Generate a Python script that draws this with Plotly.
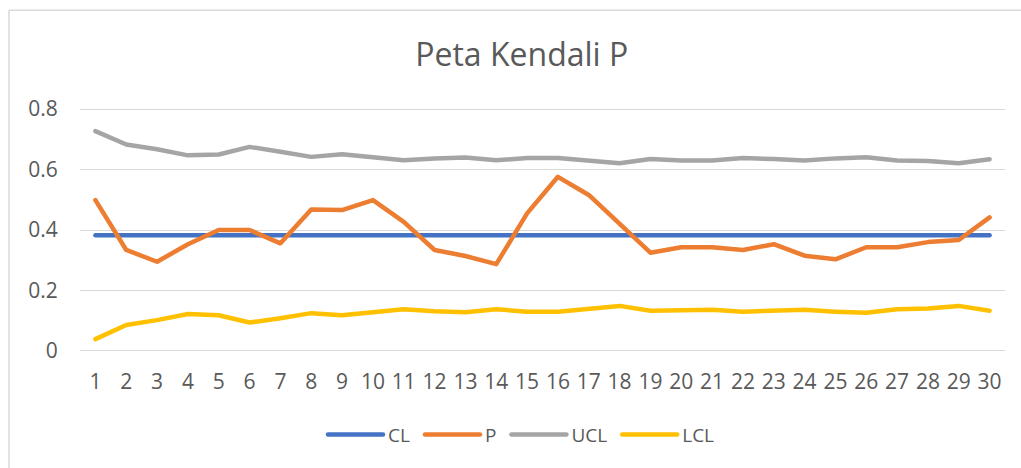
import plotly.graph_objects as go

samples = list(range(1, 31))
cl = [0.383] * 30
p = [0.499, 0.334, 0.295, 0.353, 0.400, 0.400, 0.356, 0.468, 0.466, 0.499,
     0.427, 0.334, 0.314, 0.287, 0.455, 0.576, 0.516, 0.420, 0.325, 0.343,
     0.343, 0.334, 0.353, 0.315, 0.303, 0.343, 0.343, 0.360, 0.367, 0.442]
ucl = [0.727, 0.683, 0.667, 0.647, 0.650, 0.675, 0.659, 0.642, 0.651, 0.642,
       0.631, 0.637, 0.640, 0.631, 0.638, 0.638, 0.630, 0.621, 0.635, 0.630,
       0.630, 0.638, 0.635, 0.630, 0.637, 0.641, 0.630, 0.628, 0.621, 0.634]
lcl = [0.039, 0.086, 0.102, 0.122, 0.118, 0.094, 0.108, 0.125, 0.118, 0.127,
       0.138, 0.131, 0.128, 0.138, 0.130, 0.130, 0.138, 0.149, 0.133, 0.136,
       0.136, 0.130, 0.133, 0.136, 0.130, 0.126, 0.138, 0.140, 0.149, 0.133]
y_ticks = [0, 0.2, 0.4, 0.6, 0.8]
y_labels = ["0", "0.2", "0.4", "0.6", "0.8"]

series = [("CL", cl, "#4472C4"), ("P", p, "#ED7D31"),
          ("UCL", ucl, "#A5A5A5"), ("LCL", lcl, "#FFC000")]

fig = go.Figure()
for name, vals, col in series:
    fig.add_trace(go.Scatter(x=samples, y=vals, name=name, mode="lines",
                             line=dict(color=col, width=4.5)))

font = "Open Sans, Liberation Sans, sans-serif"
fig.update_layout(
    width=1021, height=468,
    margin=dict(l=80, r=16, t=94, b=108),
    paper_bgcolor="white", plot_bgcolor="white",
    font=dict(family=font, color="#595959"),
    title=dict(text="Peta Kendali P", x=0.511, xanchor="center",
               y=1 - 54.5 / 468, yanchor="middle", yref="container",
               font=dict(size=32, color="#595959", family=font)),
    showlegend=True,
    legend=dict(orientation="h", x=0.4746, xanchor="center", y=-0.281,
                yanchor="middle", font=dict(size=19, color="#595959"),
                itemwidth=60),
    xaxis=dict(range=[0.5, 30.5], tickvals=samples,
               ticktext=[str(s) for s in samples], showgrid=False,
               zeroline=False, showline=False, ticks="outside", ticklen=3,
               tickcolor="rgba(0,0,0,0)", tickfont=dict(size=21, color="#595959")),
    yaxis=dict(range=[-0.03, 0.85], tickvals=y_ticks, ticktext=y_labels,
               showgrid=True, gridcolor="#D9D9D9", gridwidth=1.3,
               zeroline=False, showline=False, ticks="outside", ticklen=17,
               tickcolor="rgba(0,0,0,0)", tickfont=dict(size=21, color="#595959")),
    shapes=[
        dict(type="line", xref="paper", yref="paper", x0=-0.0768, x1=-0.0768,
             y0=1.3152, y1=-0.6, line=dict(color="#D9D9D9", width=1.5)),
        dict(type="line", xref="paper", yref="paper", x0=-0.0768, x1=1.05,
             y0=1.3152, y1=1.3152, line=dict(color="#D9D9D9", width=1.5)),
    ],
)

post = """
document.body.style.margin='0';
document.body.style.overflow='hidden';
document.querySelectorAll('.legendlines path').forEach(function(p){
  p.setAttribute('d','M10,0h55');
  p.style.strokeWidth='4.5px';
  p.style.strokeLinecap='round';
});
document.querySelectorAll('.scatterlayer path.js-line').forEach(function(p){
  p.style.strokeLinecap='round';
  p.style.strokeLinejoin='round';
});
"""
fig.write_html("out.html", config={"displayModeBar": False}, post_script=post)
